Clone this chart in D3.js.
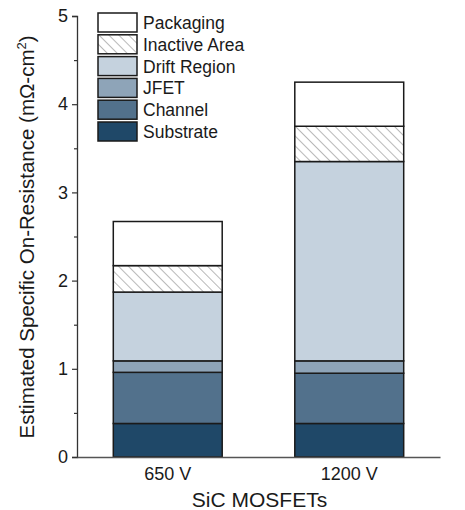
<!DOCTYPE html>
<html>
<head>
<meta charset="utf-8">
<script src="https://cdn.jsdelivr.net/npm/d3@7"></script>
<style>
  body { margin: 0; background: #fff; }
  text { font-family: Arial, "Liberation Sans", sans-serif; fill: #1a1a1a; }
</style>
</head>
<body>
<svg id="chart"></svg>
<script>
// data
const devices = ["650 V", "1200 V"];
const layers = ["Substrate", "Channel", "JFET", "Drift Region", "Inactive Area", "Packaging"];
const substrate = [0.38, 0.38];
const channel = [0.58, 0.57];
const jfet = [0.13, 0.14];
const drift = [0.78, 2.26];
const inactive = [0.30, 0.40];
const packaging = [0.50, 0.50];
const yTicks = [0, 1, 2, 3, 4, 5];

const colors = {
  "Substrate": "#1f4868",
  "Channel": "#52718c",
  "JFET": "#8ea4b8",
  "Drift Region": "#c5d2de",
  "Inactive Area": "url(#hatch)",
  "Packaging": "#ffffff"
};

const width = 465, height = 510;
const margin = { top: 16, right: 25, bottom: 53, left: 77 };

const svg = d3.select("#chart").attr("width", width).attr("height", height);

// hatch for inactive area
const pat = svg.append("defs").append("pattern")
  .attr("id", "hatch")
  .attr("patternUnits", "userSpaceOnUse")
  .attr("width", 7).attr("height", 7)
  .attr("patternTransform", "rotate(-45)");
pat.append("rect").attr("width", 7).attr("height", 7).attr("fill", "#fff");
pat.append("line").attr("x1", 0).attr("y1", 0).attr("x2", 0).attr("y2", 7)
  .attr("stroke", "#8a8a8a").attr("stroke-width", 1.2);

// build stacked table
const rows = devices.map((d, i) => ({
  device: d,
  "Substrate": substrate[i],
  "Channel": channel[i],
  "JFET": jfet[i],
  "Drift Region": drift[i],
  "Inactive Area": inactive[i],
  "Packaging": packaging[i]
}));
const stacked = d3.stack().keys(layers)(rows);

const x = d3.scaleBand()
  .domain(devices)
  .range([margin.left, width - margin.right])
  .paddingInner(0.4)
  .paddingOuter(0.2);

const y = d3.scaleLinear()
  .domain([0, 5])
  .range([height - margin.bottom, margin.top]);

// bars
svg.append("g").selectAll("g")
  .data(stacked)
  .join("g")
  .attr("fill", d => colors[d.key])
  .selectAll("rect")
  .data(d => d)
  .join("rect")
  .attr("x", d => x(d.data.device))
  .attr("width", x.bandwidth())
  .attr("y", d => y(d[1]))
  .attr("height", d => y(d[0]) - y(d[1]))
  .attr("stroke", "#1a1a1a")
  .attr("stroke-width", 1.5);

// y axis with minor ticks
const yAxis = svg.append("g")
  .attr("transform", `translate(${margin.left},0)`)
  .call(d3.axisLeft(y).tickValues(yTicks).tickFormat(d3.format("d")).tickSize(5).tickPadding(4));
yAxis.selectAll("text").style("font-size", "18px");
yAxis.select(".domain").attr("stroke", "#333").attr("stroke-width", 1.3);
yAxis.selectAll(".tick line").attr("stroke", "#333").attr("stroke-width", 1.2);

svg.append("g")
  .attr("transform", `translate(${margin.left},0)`)
  .call(d3.axisLeft(y).tickValues(d3.range(0.5, 5, 1)).tickSize(3).tickFormat(""))
  .call(g => g.select(".domain").remove())
  .selectAll(".tick line").attr("stroke", "#333").attr("stroke-width", 1.2);

// x axis (no ticks)
const xAxis = svg.append("g")
  .attr("transform", `translate(0,${height - margin.bottom})`)
  .call(d3.axisBottom(x).tickSize(0).tickPadding(10).tickSizeOuter(0));
xAxis.selectAll("text").style("font-size", "18px");
xAxis.select(".domain").attr("stroke", "#555").attr("stroke-width", 1.5);

// axis titles
svg.append("text")
  .attr("x", (margin.left + width - margin.right) / 2 + 1)
  .attr("y", 507)
  .attr("text-anchor", "middle")
  .style("font-size", "21px")
  .text("SiC MOSFETs");

const yt = svg.append("text")
  .attr("transform", `translate(34,${237}) rotate(-90)`)
  .attr("text-anchor", "middle")
  .style("font-size", "20.5px");
yt.append("tspan").text("Estimated Specific On-Resistance (m\u03A9-cm");
yt.append("tspan").attr("dy", -8).style("font-size", "13px").text("2");
yt.append("tspan").attr("dy", 8).text(")");

// legend
const legend = svg.append("g").attr("transform", "translate(98,13)");
const legendItems = layers.slice().reverse();
const li = legend.selectAll("g")
  .data(legendItems)
  .join("g")
  .attr("transform", (d, i) => `translate(0,${i * 21.8})`);
li.append("rect")
  .attr("width", 39).attr("height", 19)
  .attr("fill", d => colors[d])
  .attr("stroke", "#1a1a1a")
  .attr("stroke-width", 1.5);
li.append("text")
  .attr("x", 45).attr("y", 16)
  .style("font-size", "17.5px")
  .text(d => d);
</script>
</body>
</html>
